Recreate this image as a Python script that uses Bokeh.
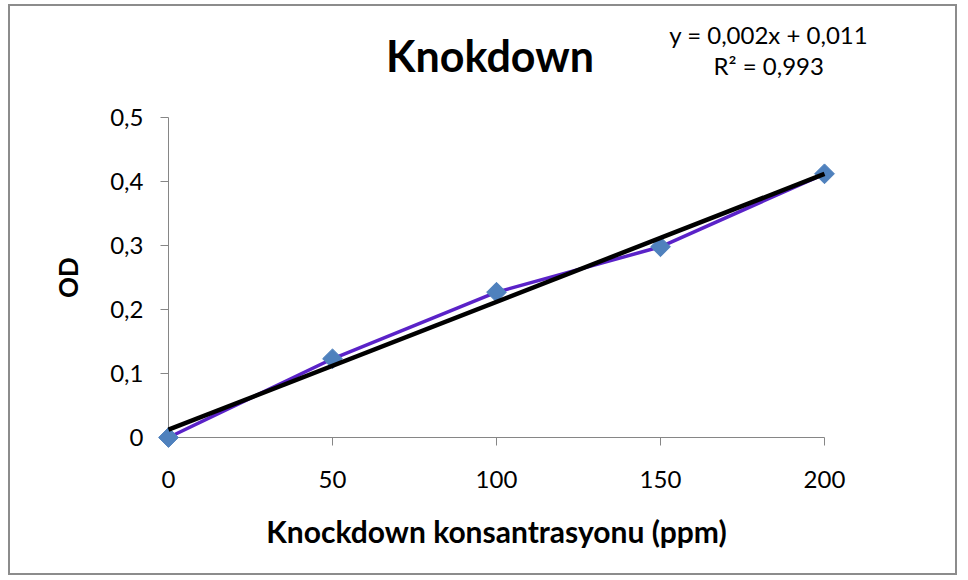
import numpy as np
from bokeh.plotting import figure
from bokeh.models import FixedTicker, Range1d
from bokeh.core.properties import value
from bokeh.embed import file_html
from bokeh.resources import INLINE

# ---- data ----
x_conc = [0, 50, 100, 150, 200]
od = [0.0, 0.123, 0.227, 0.298, 0.412]
x_ticks = [0, 50, 100, 150, 200]
x_tick_labels = ["0", "50", "100", "150", "200"]
y_ticks = [0, 0.1, 0.2, 0.3, 0.4, 0.5]
y_tick_labels = ["0", "0,1", "0,2", "0,3", "0,4", "0,5"]
title_text = "Knokdown"
x_title = "Knockdown konsantrasyonu (ppm)"
y_title = "OD"
eq_lines = ["y = 0,002x + 0,011", "R\u00b2 = 0,993"]

slope, intercept = np.polyfit(x_conc, od, 1)
trend_x = [min(x_conc), max(x_conc)]
trend_y = [slope * v + intercept for v in trend_x]

FONT = "Lato"
AXIS_COLOR = "#868686"

p = figure(width=949, height=571, output_backend="svg", toolbar_location=None,
           x_range=Range1d(0, 200), y_range=Range1d(0, 0.5),
           min_border_left=158, min_border_right=135,
           min_border_top=111, min_border_bottom=140)
p.styles = {"border": "2px solid #8c8c8c", "margin-left": "8px", "margin-top": "4px"}
p.outline_line_color = None
p.background_fill_color = "white"
p.border_fill_color = "white"
p.xgrid.grid_line_color = None
p.ygrid.grid_line_color = None

for ax in (p.xaxis[0], p.yaxis[0]):
    ax.axis_line_color = AXIS_COLOR
    ax.axis_line_width = 1
    ax.major_tick_line_color = AXIS_COLOR
    ax.major_tick_out = 8
    ax.major_tick_in = 0
    ax.minor_tick_line_color = None
    ax.major_label_text_font = FONT
    ax.major_label_text_font_size = "24px"
    ax.major_label_text_color = "black"
    ax.axis_label_text_font = FONT
    ax.axis_label_text_font_style = "bold"
    ax.axis_label_text_color = "black"

p.xaxis.ticker = FixedTicker(ticks=x_ticks)
p.xaxis.major_label_overrides = {t: l for t, l in zip(x_ticks, x_tick_labels)}
p.yaxis.ticker = FixedTicker(ticks=y_ticks)
p.yaxis.major_label_overrides = {t: l for t, l in zip(y_ticks, y_tick_labels)}

p.xaxis.axis_label = x_title
p.xaxis.axis_label_text_font_size = "30px"
p.xaxis.major_label_standoff = 25
p.xaxis.axis_label_standoff = 22

p.yaxis.axis_label = y_title
p.yaxis.axis_label_text_font_size = "26px"
p.yaxis.major_label_standoff = 17
p.yaxis.axis_label_standoff = 23

# series line
r1 = p.line(x_conc, od, line_color="#5a22c8", line_width=3.5)
# markers (rotated squares = diamonds)
r2 = p.scatter(x_conc, od, marker="square", angle=np.pi / 4, size=14,
               fill_color="#4f81bd", line_color="#4f81bd")
# linear trend line
r3 = p.line(trend_x, trend_y, line_color="black", line_width=4.5)

# chart title and trendline equation (drawn as text glyphs above the frame)
r4 = p.text(x=[98], y=[0.5969], text=[title_text], text_font=value(FONT),
            text_font_style="bold", text_font_size="43px",
            text_align="center", text_baseline="middle", text_color="black")
r5 = p.text(x=[183, 183], y=[0.6297, 0.5813], text=eq_lines, text_font=value(FONT),
            text_font_size="24px", text_align="center",
            text_baseline="middle", text_color="black")
for r in (r1, r2, r3, r4, r5):
    r.level = "overlay"

open("out.html", "w").write(file_html(p, INLINE))
